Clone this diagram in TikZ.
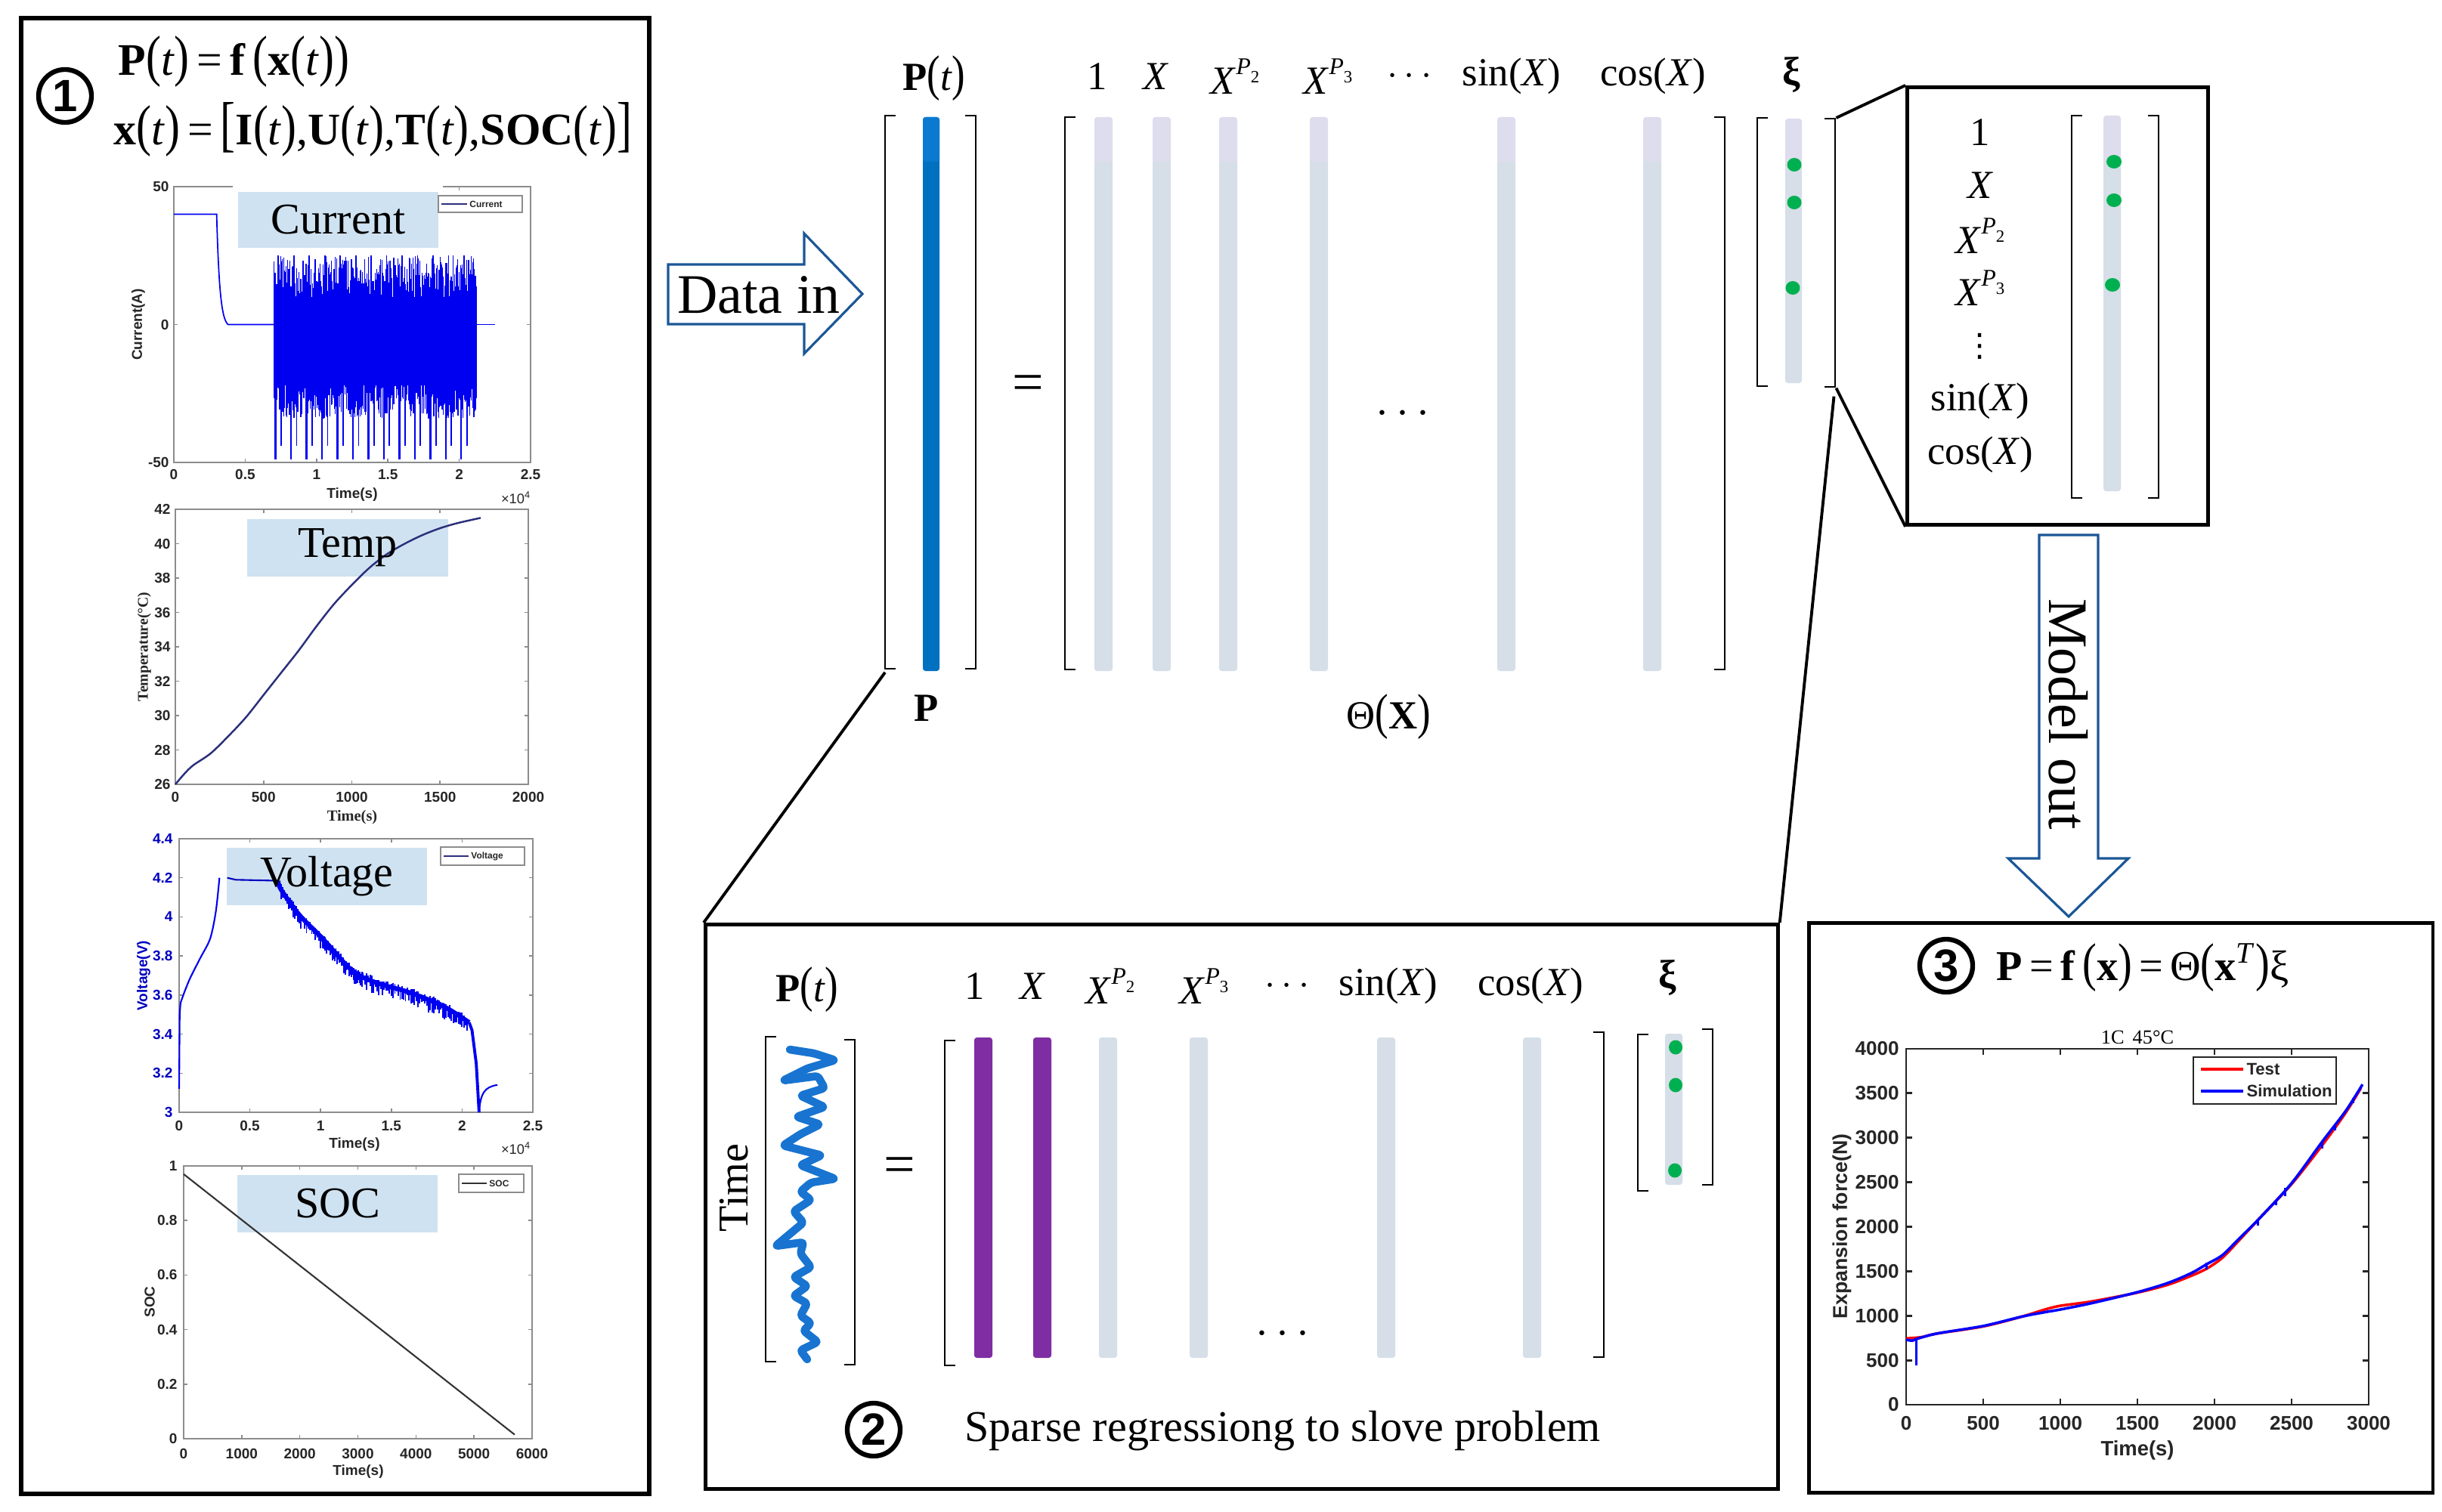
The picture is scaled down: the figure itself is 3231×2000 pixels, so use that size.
\documentclass[tikz,border=0pt]{standalone}
\usepackage{fontspec}
\usepackage{graphicx}
\setmainfont{Liberation Serif}
\newfontfamily\sansf{Liberation Sans}
\newfontfamily\dvsans{DejaVu Sans}
\usetikzlibrary{calc}
\definecolor{barg}{HTML}{D6DEE8}
\definecolor{barl}{HTML}{DEDDEE}
\definecolor{pblue}{HTML}{0070C0}
\definecolor{pbluel}{HTML}{0A7AD0}
\definecolor{dotg}{HTML}{00B050}
\definecolor{purp}{HTML}{7F2DA3}
\definecolor{lblbox}{HTML}{CFE2F1}
\definecolor{arrowc}{HTML}{1B5797}
\definecolor{axgrey}{HTML}{8C8C8C}
\definecolor{tickc}{HTML}{262626}
\definecolor{sigblue}{HTML}{0000F0}
\definecolor{tempc}{HTML}{2B2F7A}
\definecolor{socc}{HTML}{333333}
\definecolor{squig}{HTML}{1874D0}
\newcommand\lbrk[3]{\draw[brk] (#1+14,#2) -- (#1,#2) -- (#1,#3) -- (#1+14,#3);}
\newcommand\rbrk[3]{\draw[brk] (#1-14,#2) -- (#1,#2) -- (#1,#3) -- (#1-14,#3);}
\newcommand\mybar[4]{\fill[#4, rounded corners=1pt] (#1-12,#2) rectangle (#1+12,#3);}
\newcommand\twobar[3]{\fill[barl, rounded corners=1pt] (#1-12,#2) rectangle (#1+12,#2+65);
  \fill[barg, rounded corners=1pt] (#1-12,#2+59) rectangle (#1+12,#3);}
\newcommand\Xp[1]{\textit{X}\raisebox{0.5em}{\fontsize{9}{9}\selectfont\textit{P}\raisebox{-0.35em}{\fontsize{6.5}{6.5}\selectfont #1}}}
\newcommand\Lp{\scalebox{1}[1.25]{(}}
\newcommand\Rp{\scalebox{1}[1.25]{)}}
\tikzset{
  panel/.style={draw=black, line width=1.4pt, inner sep=0pt},
  brk/.style={line width=0.75pt},
  conn/.style={line width=1.1pt},
  hdr/.style={font=\fontsize{15}{15}\selectfont, inner sep=0pt},
  eqf/.style={font=\fontsize{17}{17}\selectfont, inner sep=0pt},
  bigsym/.style={font=\fontsize{21}{21}\selectfont, inner sep=0pt},
  lbl/.style={font=\fontsize{16.5}{16.5}\selectfont, inner sep=0pt},
  circnum/.style={circle, draw, line width=1.8pt, minimum size=0.70cm, inner sep=0pt, font=\sansf\bfseries\fontsize{17}{17}\selectfont},
  axp/.style={draw=axgrey, line width=0.45pt},
  tk/.style={font=\sansf\bfseries\fontsize{5.4}{6}\selectfont, text=tickc, inner sep=0.5pt},
  tkb/.style={font=\sansf\bfseries\fontsize{7.4}{8}\selectfont, text=tickc, inner sep=0.5pt},
  leg/.style={font=\sansf\bfseries\fontsize{3.4}{4}\selectfont, text=tickc, inner sep=0.5pt},
  gdot/.style={fill=dotg},
  hollowarrow/.style={draw=arrowc, line width=0.9pt, fill=white, line join=miter},
}
\begin{document}
\begin{tikzpicture}[x=0.01cm,y=-0.01cm]
\useasboundingbox (0,0) rectangle (3231,2000);
\fill[white] (0,0) rectangle (3231,2000);

%================ PANEL 1 ================
\node[panel, line width=1.6pt, anchor=north west, minimum width=8.31cm, minimum height=19.52cm] (panel1) at (25,21) {};
\node[circnum] (c1) at (86,127) {1};
\node[eqf, anchor=base west] (eq1) at (156,100) {\textbf{P}\Lp\textit{t}\Rp\,=\,\textbf{f}\,\Lp\textbf{x}\Lp\textit{t}\Rp\Rp};
\node[eqf, anchor=base west] (eq2) at (150,192) {\textbf{x}\Lp\textit{t}\Rp\,=\,\scalebox{1}[1.35]{[}\textbf{I}\Lp\textit{t}\Rp,\textbf{U}\Lp\textit{t}\Rp,\textbf{T}\Lp\textit{t}\Rp,\textbf{SOC}\Lp\textit{t}\Rp\scalebox{1}[1.35]{]}};

% ---- Current plot
\draw[axp] (230,247) rectangle (702,612);
\foreach \x in {230,324.4,418.8,513.2,607.6,702}{\draw[axp] (\x,612) -- (\x,607); \draw[axp] (\x,247) -- (\x,252);}
\foreach \y in {247,429.5,612}{\draw[axp] (230,\y) -- (235,\y); \draw[axp] (702,\y) -- (697,\y);}
\foreach \x/\l in {230/0,324.4/0.5,418.8/1,513.2/1.5,607.6/2,702/2.5}{\node[tk] (cx\l) at (\x,628) {\l};}
\node[tk, anchor=east] (cy1) at (226,247) {50};
\node[tk, anchor=east] (cy2) at (226,429.5) {0};
\node[tk, anchor=east] (cy3) at (226,612) {-50};
\node[tk] (ctime) at (466,655) {Time(s)};
\node[tk, font=\sansf\fontsize{5.2}{6}\selectfont] (cexp) at (683,659) {×10\textsuperscript{4}};
\node[tk, rotate=90] (cylab) at (183,429.5) {Current(A)};
\begin{scope}[shift={(230,429.5)}, xscale=188.8, yscale=-3.65]
  \draw[sigblue, line width=0.5pt] (0,40) -- (0.3,40) .. controls (0.315,12) and (0.335,2) .. (0.38,0) -- (0.7,0);
  \draw[sigblue, line width=0.5pt] (2.12,0) -- (2.25,0);
  \pgfmathsetseed{7}
  \fill[sigblue] (0.7,-22) rectangle (2.12,10);
  \foreach \i in {0,...,420}{
    \pgfmathsetmacro\cxx{0.7+\i*1.42/420}
    \pgfmathsetmacro\chi{8+17*rnd}
    \pgfmathsetmacro\clo{-20-14*rnd}
    \draw[sigblue, line width=0.35pt] (\cxx,\clo) -- (\cxx,\chi);
  }
  \foreach \k in {0,...,12}{
    \pgfmathsetmacro\cxx{0.712+\k*0.1085}
    \draw[sigblue, line width=0.7pt] (\cxx,-49) -- (\cxx,0);
    \draw[sigblue, line width=0.5pt] (\cxx+0.04,-44) -- (\cxx+0.04,0);
    \draw[sigblue, line width=0.5pt] (\cxx+0.02,25) -- (\cxx+0.02,0);
  }
\end{scope}
\fill[white] (308,243) rectangle (586,253);
\node[lbl, fill=lblbox, minimum width=2.65cm, minimum height=0.74cm] (lcur) at (447.5,291) {Current};
\draw[axp, draw=black!45] (580,259) rectangle (691,281);
\draw[tempc, line width=0.6pt] (584,270) -- (618,270);
\node[leg, anchor=west] (legcur) at (619,270) {Current};

% ---- Temperature plot
\draw[axp] (232,674) rectangle (699,1038);
\foreach \v in {26,28,...,42}{
  \draw[axp] (232,{1038-(\v-26)*22.75}) -- ++(5,0);
  \draw[axp] (699,{1038-(\v-26)*22.75}) -- ++(-5,0);
  \node[tk] at (215,{1038-(\v-26)*22.75}) {\v};}
\foreach \t in {0,500,1000,1500,2000}{
  \draw[axp] ({232+\t*0.2335},1038) -- ++(0,-5);
  \draw[axp] ({232+\t*0.2335},674) -- ++(0,5);
  \node[tk] at ({232+\t*0.2335},1055) {\t};}
\node[tk, font=\bfseries\fontsize{5.8}{6}\selectfont] (ttime) at (466,1082) {Time(s)};
\node[tk, font=\bfseries\fontsize{5.6}{6}\selectfont, rotate=90] (tylab) at (191,856) {Temperature(°C)};
\fill[lblbox] (327,687) rectangle (593,763);
\begin{scope}[shift={(232,1629.5)}, xscale=0.2335, yscale=-22.75]
  \draw[tempc, line width=0.7pt] plot[smooth] coordinates {(0,26) (50,26.6) (100,27.1) (200,27.8) (300,28.8) (400,29.9) (500,31.2) (600,32.5) (700,33.8) (800,35.2) (900,36.5) (1000,37.6) (1100,38.6) (1200,39.4) (1300,40) (1400,40.5) (1500,40.9) (1600,41.2) (1730,41.5)};
\end{scope}
\node[lbl] (ltemp) at (460,725) {Temp};

% ---- Voltage plot
\draw[axp] (237,1110) rectangle (705,1472);
\foreach \v in {3,3.2,3.4,3.6,3.8,4,4.2,4.4}{
  \draw[axp] (237,{1472-(\v-3)*258.6}) -- ++(5,0);
  \draw[axp] (705,{1472-(\v-3)*258.6}) -- ++(-5,0);
  \node[tk, text=sigblue!80!black, anchor=east] at (231,{1472-(\v-3)*258.6}) {\v};}
\foreach \x/\l in {237/0,330.6/0.5,424.2/1,517.8/1.5,611.4/2,705/2.5}{
  \draw[axp] (\x,1472) -- ++(0,-5);
  \draw[axp] (\x,1110) -- ++(0,5);
  \node[tk] at (\x,1490) {\l};}
\node[tk] (vtime) at (469,1515) {Time(s)};
\node[tk, font=\sansf\fontsize{5.2}{6}\selectfont] (vexp) at (683,1520) {×10\textsuperscript{4}};
\node[tk, text=sigblue!80!black, rotate=90] (vylab) at (190,1291) {Voltage(V)};
\fill[lblbox] (300,1122) rectangle (565,1198);
\begin{scope}[shift={(237,2247.8)}, xscale=187.2, yscale=-258.6]
  \draw[sigblue, line width=0.6pt] (0,3.12) -- (0.004,3.5) -- (0.01,3.56) plot[smooth] coordinates {(0.01,3.56) (0.04,3.62) (0.08,3.69) (0.15,3.79) (0.22,3.89) (0.26,4.03) (0.285,4.2)};
  \draw[sigblue!80!black, line width=0.6pt] (0.34,4.2) -- (0.4,4.19) -- (0.7,4.185);
  \draw[sigblue, line width=1.7pt] plot[smooth] coordinates {(0.7,4.185) (0.72,4.14) (0.85,4.01) (1.0,3.9) (1.1,3.82) (1.2,3.74) (1.3,3.69) (1.45,3.65) (1.6,3.62) (1.75,3.58) (1.9,3.53) (2.05,3.46)};
  \pgfmathsetseed{11}
  \foreach \ta/\va/\tb/\vb in {0.72/4.14/0.85/4.01, 0.85/4.01/1.0/3.9, 1.0/3.9/1.1/3.82, 1.1/3.82/1.2/3.74, 1.2/3.74/1.3/3.69, 1.3/3.69/1.45/3.65, 1.45/3.65/1.6/3.62, 1.6/3.62/1.75/3.58, 1.75/3.58/1.9/3.53, 1.9/3.53/2.05/3.46}{
    \foreach \j in {0,...,11}{
      \pgfmathsetmacro\vtt{\ta+(\tb-\ta)*\j/12}
      \pgfmathsetmacro\vvv{\va+(\vb-\va)*\j/12}
      \pgfmathsetmacro\vdn{0.015+0.05*rnd}
      \pgfmathsetmacro\vupp{0.008+0.02*rnd}
      \draw[sigblue, line width=0.55pt] (\vtt,\vvv-\vdn) -- (\vtt,\vvv+\vupp);
    }
  }
  \draw[sigblue, line width=1.1pt] (2.05,3.46) -- (2.07,3.42) -- (2.1,3.25) -- (2.12,3.0);
  \draw[sigblue, line width=0.6pt] (2.12,3.0) .. controls (2.13,3.1) and (2.16,3.13) .. (2.25,3.14);
\end{scope}
\node[lbl] (lvolt) at (432.5,1160) {Voltage};
\draw[axp, draw=black!45] (583,1121) rectangle (694,1145);
\draw[tempc, line width=0.6pt] (587,1133) -- (620,1133);
\node[leg, anchor=west] (legvolt) at (621,1133) {Voltage};

% ---- SOC plot
\draw[axp] (243,1543) rectangle (704,1904);
\foreach \v in {0,0.2,0.4,0.6,0.8,1}{
  \draw[axp] (243,{1904-\v*361}) -- ++(5,0);
  \draw[axp] (704,{1904-\v*361}) -- ++(-5,0);
  \node[tk, anchor=east] at (237,{1904-\v*361}) {\v};}
\foreach \t in {0,1000,2000,3000,4000,5000,6000}{
  \draw[axp] ({243+\t*0.07683},1904) -- ++(0,-5);
  \draw[axp] ({243+\t*0.07683},1543) -- ++(0,5);
  \node[tk] at ({243+\t*0.07683},1924) {\t};}
\node[tk] (stime) at (474,1948) {Time(s)};
\node[tk, rotate=90] (sylab) at (198,1723) {SOC};
\fill[lblbox] (314,1555) rectangle (579,1631);
\begin{scope}[shift={(243,1904)}, xscale=0.07683, yscale=-361]
  \draw[socc, line width=0.6pt] (0,0.97) -- (5700,0.015);
\end{scope}
\node[lbl] (lsoc) at (446.5,1593) {SOC};
\draw[axp, draw=black!45] (607,1554) rectangle (693,1578);
\draw[socc, line width=0.7pt] (611,1566) -- (644,1566);
\node[leg, anchor=west] (legsoc) at (645,1566) {SOC};

%================ MAIN MATRIX ================
\node[hdr] (hP) at (1236,104) {\textbf{P}\Lp\textit{t}\Rp};
\node[hdr] (h1) at (1452,101) {1};
\node[hdr] (h2) at (1529,101) {\textit{X}};
\node[hdr] (h3) at (1634,101) {\Xp{2}};
\node[hdr] (h4) at (1757,101) {\Xp{3}};
\node[hdr] (h5) at (1865,101) {$\cdots$};
\node[hdr] (h6) at (2000,101) {sin(\textit{X})};
\node[hdr] (h7) at (2187,101) {cos(\textit{X})};
\node[hdr] (h8) at (2370,99) {\textbf{ξ}};

\node[anchor=north west, minimum width=1.20cm, minimum height=7.35cm, inner sep=0pt] (Pmat) at (1171,153) {};
\lbrk{1171}{153}{885}
\rbrk{1291}{153}{885}
\fill[pblue, rounded corners=1pt] (1221,155) rectangle (1243,888);
\fill[pbluel, rounded corners=1pt] (1221,155) rectangle (1243,214);
\node[hdr] (hPb) at (1226,937) {\textbf{P}};
\node[bigsym] (eqm) at (1360,514) {=};

\lbrk{1409}{155}{886}
\rbrk{2282}{155}{886}
\foreach \x in {1460,1537,1625,1745,1993,2186}{\twobar{\x}{155}{888}}
\node[font=\fontsize{18}{18}\selectfont, inner sep=0pt] (dm) at (1856,548) {$\cdots$};
\node[hdr] (theta) at (1837,949) {Θ\Lp\textbf{X}\Rp};

\node[anchor=north west, minimum width=1.03cm, minimum height=3.56cm, inner sep=0pt] (ximat) at (2325,156) {};
\lbrk{2325}{156}{511}
\rbrk{2428}{157}{512}
\fill[barl, rounded corners=1pt] (2362,157) rectangle (2384,222);
\fill[barg, rounded corners=1pt] (2362,216) rectangle (2384,507);
\fill[gdot] (2374,218) ellipse (9.5 and 9);
\fill[gdot] (2374,268) ellipse (9.5 and 9);
\fill[gdot] (2372,381) ellipse (9.5 and 9);

% Data in arrow
\draw[hollowarrow] (884,350) -- (1064,350) -- (1064,309) -- (1141,389) -- (1064,468) -- (1064,429) -- (884,429) -- cycle;
\node[bigsym] (datain) at (1004,390) {Data in};

%================ ZOOM BOX ================
\node[panel, line width=1.3pt, anchor=north west, minimum width=3.98cm, minimum height=5.79cm] (zoombox) at (2521,113) {};
\node[hdr] (z1) at (2620,175) {1};
\node[hdr] (z2) at (2620,245) {\textit{X}};
\node[hdr] (z3) at (2620,312) {\Xp{2}};
\node[hdr] (z4) at (2620,381) {\Xp{3}};
\node[font=\dvsans\fontsize{12}{12}\selectfont, inner sep=0pt] (z5) at (2620,458) {⋮};
\node[hdr] (z6) at (2620,531) {sin(\textit{X})};
\node[hdr] (z7) at (2620,602) {cos(\textit{X})};
\lbrk{2741}{153}{659}
\rbrk{2856}{153}{659}
\fill[barl, rounded corners=1pt] (2783,153) rectangle (2806,218);
\fill[barg, rounded corners=1pt] (2783,212) rectangle (2806,650);
\fill[gdot] (2797,214) ellipse (10 and 9);
\fill[gdot] (2797,265) ellipse (10 and 9);
\fill[gdot] (2795,377) ellipse (10 and 9);

% Model out arrow
\draw[hollowarrow] (2698,708) -- (2776,708) -- (2776,1136) -- (2816,1136) -- (2737,1213) -- (2657,1136) -- (2698,1136) -- cycle;
\node[bigsym, rotate=-90] (modelout) at (2737,945) {Model out};

%================ PANEL 2 ================
\node[panel, anchor=north west, minimum width=14.18cm, minimum height=7.47cm] (panel2) at (931,1221) {};
\node[hdr] (qP) at (1068,1310) {\textbf{P}\Lp\textit{t}\Rp};
\node[hdr] (q1) at (1290,1305) {1};
\node[hdr] (q2) at (1366,1305) {\textit{X}};
\node[hdr] (q3) at (1469,1305) {\Xp{2}};
\node[hdr] (q4) at (1593,1305) {\Xp{3}};
\node[hdr] (q5) at (1703,1305) {$\cdots$};
\node[hdr] (q6) at (1837,1305) {sin(\textit{X})};
\node[hdr] (q7) at (2025,1305) {cos(\textit{X})};
\node[hdr] (q8) at (2206,1294) {\textbf{ξ}};
\node[font=\fontsize{16}{16}\selectfont, inner sep=0pt, rotate=90] (timel) at (971,1572) {Time};
\lbrk{1013}{1372}{1802}
\rbrk{1131}{1376}{1806}
\draw[squig, line width=3pt, line join=round, line cap=round, rounded corners=1pt] (1045,1389) -- (1077,1394) -- (1105,1403) -- (1068,1414) -- (1036,1430) -- (1082,1424) -- (1091,1440) -- (1059,1450) -- (1091,1465) -- (1054,1478) -- (1085,1488) -- (1059,1501) -- (1036,1516) -- (1087,1529) -- (1059,1542) -- (1105,1560) -- (1073,1565) -- (1059,1577) -- (1073,1588) -- (1050,1603) -- (1063,1618) -- (1026,1649) -- (1063,1644) -- (1059,1659) -- (1073,1677) -- (1050,1690) -- (1068,1702) -- (1050,1715) -- (1068,1725) -- (1059,1741) -- (1073,1751) -- (1063,1761) -- (1082,1776) -- (1059,1787) -- (1068,1799);
\node[bigsym] (eq2m) at (1190,1549) {=};
\lbrk{1250}{1377}{1807}
\rbrk{2122}{1366}{1796}
\mybar{1301}{1373}{1797}{purp}
\mybar{1379}{1373}{1797}{purp}
\foreach \x in {1466,1586,1834,2027}{\mybar{\x}{1373}{1797}{barg}}
\node[font=\fontsize{18}{18}\selectfont, inner sep=0pt] (dm2) at (1697,1766) {$\cdots$};
\lbrk{2167}{1369}{1576}
\rbrk{2266}{1362}{1568}
\fill[barg, rounded corners=1pt] (2203,1368) rectangle (2226,1568);
\fill[gdot] (2217,1386) ellipse (9 and 9.5);
\fill[gdot] (2217,1436) ellipse (9 and 9.5);
\fill[gdot] (2216,1549) ellipse (9 and 9.5);
\node[circnum] (c2) at (1156,1892) {2};
\node[font=\fontsize{16.5}{16.5}\selectfont, inner sep=0pt, anchor=west] (sparse) at (1276,1894) {Sparse regressiong to slove problem};

%================ PANEL 3 ================
\node[panel, anchor=north west, minimum width=8.25cm, minimum height=7.54cm] (panel3) at (2391,1219) {};
\node[circnum] (c3) at (2575,1278) {3};
\node[font=\fontsize{16}{16}\selectfont, inner sep=0pt, anchor=base west] (eq3) at (2641,1297) {\textbf{P}\,=\,\textbf{f}\,\Lp\textbf{x}\Rp\,=\,Θ\Lp\textbf{x}\textsuperscript{\textit{T}}\Rp ξ};
\node[font=\fontsize{7.5}{8}\selectfont, inner sep=0pt] (ptitle) at (2828,1373) {1C\, 45°C};
\draw[draw=tickc, line width=0.8pt] (2522,1388) rectangle (3134,1859);
\foreach \v in {0,500,1000,1500,2000,2500,3000,3500,4000}{
  \draw[draw=tickc, line width=0.8pt] (2522,{1859-\v*0.11775}) -- ++(8,0);
  \draw[draw=tickc, line width=0.8pt] (3134,{1859-\v*0.11775}) -- ++(-8,0);
  \node[tkb, anchor=east] at (2515,{1859-\v*0.11775}) {\v};}
\foreach \t in {0,500,1000,1500,2000,2500,3000}{
  \draw[draw=tickc, line width=0.8pt] ({2522+\t*0.204},1859) -- ++(0,-8);
  \draw[draw=tickc, line width=0.8pt] ({2522+\t*0.204},1388) -- ++(0,8);
  \node[tkb] at ({2522+\t*0.204},1884) {\t};}
\node[tkb, font=\sansf\bfseries\fontsize{7.8}{8}\selectfont] (ftime) at (2828,1919) {Time(s)};
\node[tkb, font=\sansf\bfseries\fontsize{7.6}{8}\selectfont, rotate=90] (fylab) at (2437,1623) {Expansion force(N)};
\begin{scope}[shift={(2522,1859)}, xscale=0.204, yscale=-0.11775]
  \draw[red, line width=1pt] plot[smooth] coordinates {(0,745) (100,760) (200,800) (500,880) (750,990) (900,1070) (1000,1112) (1200,1160) (1500,1260) (1700,1350) (1850,1450) (1950,1530) (2050,1650) (2150,1830) (2300,2110) (2500,2480) (2700,2920) (2850,3280) (2950,3560)};
  \draw[blue, line width=1pt] plot[smooth] coordinates {(0,730) (40,720) (70,740) (200,800) (500,885) (750,990) (900,1040) (1000,1070) (1200,1140) (1500,1265) (1700,1370) (1850,1480) (1950,1580) (2050,1680) (2150,1850) (2300,2110) (2500,2490) (2700,2960) (2850,3300) (2960,3600)};
  \draw[blue, line width=1pt] (65,740) -- (65,440);
  \draw[blue, line width=0.8pt] (1950,1600) -- (1950,1520);
  \draw[blue, line width=0.8pt] (2280,2090) -- (2280,2010);
  \draw[blue, line width=0.8pt] (2400,2300) -- (2400,2240);
  \draw[blue, line width=0.8pt] (2460,2440) -- (2460,2340);
  \draw[blue, line width=0.8pt] (2700,2960) -- (2700,2880);
  \draw[blue, line width=0.8pt] (2780,3130) -- (2780,3080);
  \draw[blue, line width=0.8pt] (2900,3450) -- (2900,3390);
\end{scope}
\draw[draw=tickc, line width=0.8pt, fill=white] (2902,1399) rectangle (3091,1461);
\draw[red, line width=1.2pt] (2912,1415) -- (2968,1415);
\draw[blue, line width=1.2pt] (2912,1444) -- (2968,1444);
\node[tkb, font=\sansf\bfseries\fontsize{6.3}{7}\selectfont, anchor=west] (legt) at (2970,1415) {Test};
\node[tkb, font=\sansf\bfseries\fontsize{6.3}{7}\selectfont, anchor=west] (legs) at (2970,1444) {Simulation};

%================ CONNECTORS ================
\draw[conn] (Pmat.south west) -- (panel2.north west);
\draw[conn] (ximat.north east) -- (zoombox.north west);
\draw[conn] (ximat.south east) -- (zoombox.south west);
\draw[conn] ($(ximat.south east)+(-3,11)$) -- (panel2.north east);
\end{tikzpicture}
\end{document}
